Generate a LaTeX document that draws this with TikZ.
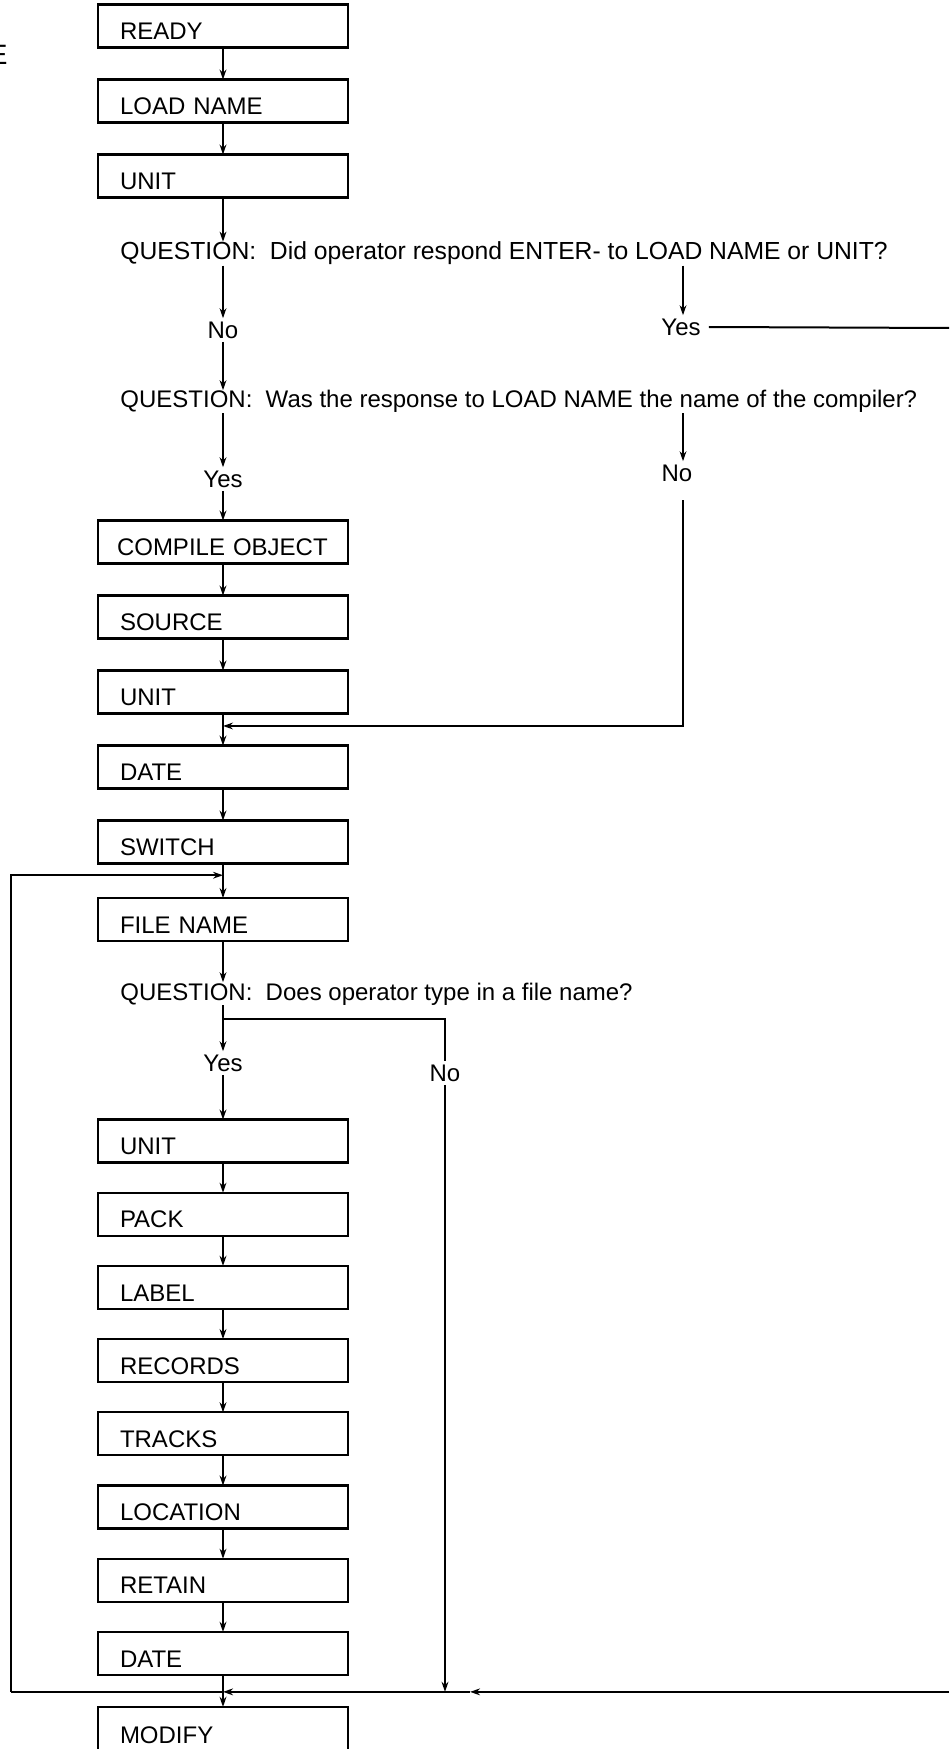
\documentclass[tikz,border=0pt]{standalone}
\usepackage{fontspec}
\setmainfont{Liberation Sans}
\usetikzlibrary{arrows.meta, positioning, calc}
\tikzset{
    every node/.style={font=\fontsize{12}{14}\selectfont},
    % Step box style
    stepbox/.style={
        rectangle,
        draw=black,
        line width=1.1pt,
        outer sep=0pt,
        minimum width=125pt,
        minimum height=21.5pt,
        inner xsep=11pt,
        inner ysep=0pt,
        text width=103pt,
        text height=13.6pt,
        text depth=0pt,
        align=left
    },
    % Question line style
    question/.style={
        anchor=base west,
        inner sep=0pt
    },
    % Yes/No answer style
    answer/.style={
        inner sep=1.5pt
    },
    % Arrow style
    arrow/.style={
        -{Stealth[length=5pt,width=3.4pt]},
        line width=1pt
    },
    % Plain line style
    line/.style={
        line width=1pt
    }
}

\begin{document}
\begin{tikzpicture}[x=0.5pt, y=-0.5pt, node distance=16pt]
        \useasboundingbox (0,0) rectangle (949,1749);

        % Stray letter at the margin
        \node (margin) [anchor=east, inner sep=0pt, font=\fontsize{14}{16}\selectfont] at (8,55) {E};

        % Load steps
        \node (ready) [stepbox] at (223,26) {READY};
        \node (loadname) [stepbox, below=of ready] {LOAD NAME};
        \node (unitA) [stepbox, below=of loadname] {UNIT};

        % Questions and answers
        \node (qA) [question, font=\fontsize{12.35}{14}\selectfont] at (120,260) {QUESTION:\ \ Did operator respond ENTER- to LOAD NAME or UNIT?};
        \node (noA) [answer] at (223,330) {No};
        \node (yesA) [answer] at (681,327) {Yes};
        \node (qB) [question] at (120,408) {QUESTION:\ \ Was the response to LOAD NAME the name of the compiler?};
        \node (yesB) [answer] at (223,479) {Yes};
        \node (noB) [answer] at (677,473) {No};

        % Compiler steps
        \node (compile) [stepbox, inner xsep=9.5pt, text width=106pt] at (223,542) {COMPILE OBJECT};
        \node (source) [stepbox, below=of compile] {SOURCE};
        \node (unitB) [stepbox, below=of source] {UNIT};
        \node (dateA) [stepbox, below=of unitB] {DATE};
        \node (switch) [stepbox, below=of dateA] {SWITCH};
        \node (filename) [stepbox, below=17.25pt of switch] {FILE NAME};

        \node (qC) [question] at (120,1000) {QUESTION:\ \ Does operator type in a file name?};
        \node (yesC) [answer] at (223,1063) {Yes};
        \node (noC) [answer] at (445,1073) {No};

        % File steps
        \begin{scope}[node distance=15.1pt]
            \node (unitC) [stepbox] at (223,1141) {UNIT};
            \node (pack) [stepbox, below=of unitC] {PACK};
            \node (lbl) [stepbox, below=of pack] {LABEL};
            \node (records) [stepbox, below=of lbl] {RECORDS};
            \node (tracks) [stepbox, below=of records] {TRACKS};
            \node (location) [stepbox, below=of tracks] {LOCATION};
            \node (retain) [stepbox, below=of location] {RETAIN};
            \node (dateB) [stepbox, below=of retain] {DATE};
        \end{scope}
        \node (modify) [stepbox, below=16pt of dateB, minimum height=23pt] {MODIFY};

        % Turning points
        \coordinate (colB) at (683,0);
        \coordinate (turnB) at (683,500);
        \coordinate (exitA) at (949,328);
        \coordinate (loopX) at (11,0);
        \coordinate (splitC) at (223,1019);
        \coordinate (mergeR) at (470,0);
        \coordinate (joinB) at ($(unitB.south)!0.39!(dateA.north)$);
        \coordinate (joinC) at ($(switch.south)!0.34!(filename.north)$);
        \coordinate (joinD) at ($(dateB.south)!0.53!(modify.north)$);

        % Connectors
        \draw [arrow] (ready) -- (loadname);
        \draw [arrow] (loadname) -- (unitA);
        \draw [arrow] (unitA) -- (unitA |- qA.north);
        \draw [arrow] (noA |- qA.south) -- (noA);
        \draw [arrow] (noA) -- (noA |- qB.north);
        \draw [arrow] (colB |- qA.south) -- (colB |- yesA.north);
        \draw [line] ([xshift=2.5pt]yesA.east) -- (exitA);
        \draw [arrow] (yesB |- qB.south) -- (yesB);
        \draw [arrow] (colB |- qB.south) -- (colB |- noB.north);
        \draw [arrow] (turnB) |- (joinB);
        \draw [arrow] (yesB) -- (compile);
        \draw [arrow] (compile) -- (source);
        \draw [arrow] (source) -- (unitB);
        \draw [arrow] (unitB) -- (dateA);
        \draw [arrow] (dateA) -- (switch);
        \draw [arrow] (switch) -- (filename);
        \draw [arrow] (filename) -- (filename |- qC.north);
        \draw [arrow] (yesC |- qC.south) -- (yesC);
        \draw [line] (splitC) -| (noC);
        \draw [arrow] (noC) -- (noC |- joinD);
        \draw [arrow] (yesC) -- (unitC);
        \draw [arrow] (unitC) -- (pack);
        \draw [arrow] (pack) -- (lbl);
        \draw [arrow] (lbl) -- (records);
        \draw [arrow] (records) -- (tracks);
        \draw [arrow] (tracks) -- (location);
        \draw [arrow] (location) -- (retain);
        \draw [arrow] (retain) -- (dateB);
        \draw [arrow] (dateB) -- (modify);
        \draw [line] (joinD) -- (joinD -| loopX);
        \draw [arrow] (joinD -| loopX) |- (joinC);
        \draw [arrow] (joinD -| exitA) -- (joinD -| mergeR);
        \draw [arrow] (joinD -| mergeR) -- (joinD);
\end{tikzpicture}
\end{document}
